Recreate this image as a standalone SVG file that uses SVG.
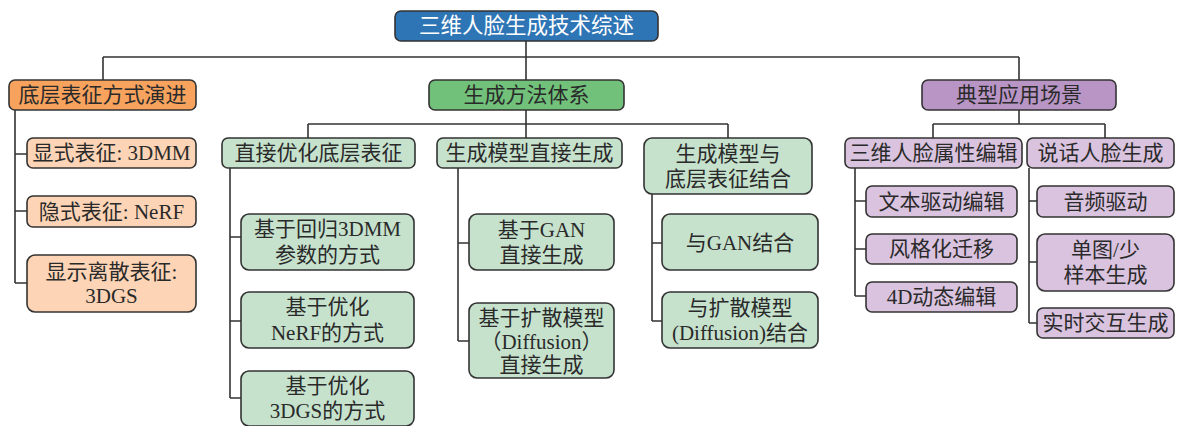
<svg xmlns="http://www.w3.org/2000/svg" width="1180" height="426" viewBox="0 0 1180 426">
<style>
rect{stroke:#333;stroke-width:1.6}
.root{fill:#2E75B6}
.or{fill:#F7A35E}
.gr{fill:#71C17B}
.pu{fill:#B995C6}
.lor{fill:#FDD5B6}
.lgr{fill:#C6E2CD}
.lpu{fill:#D9C3DF}
text{font-family:"Liberation Serif","Noto Sans CJK SC",serif;font-size:21px;fill:#2a2a2a;text-anchor:middle;dominant-baseline:central}
.w{fill:#fff;font-size:21.5px}
.con{fill:none;stroke:#333;stroke-width:1.6}
</style>
<rect width="1180" height="426" fill="#fff" style="stroke:none"/>
<g id="connectors" class="con">
<path d="M526 41V57M103 57H1019M103 57V80M526 57V80M1019 57V80"/>
<path d="M15 110V283M15 154H27M15 211H27M15 283H27"/>
<path d="M526 110V138M308 124H728M308 124V138M728 124V138"/>
<path d="M230 168V398M230 237H241M230 321H241M230 398H241"/>
<path d="M458 168V341M458 243H469M458 341H469"/>
<path d="M652 194V321M652 243H662M652 321H662"/>
<path d="M1019 110V124M933 124H1105M933 124V138M1105 124V138"/>
<path d="M855 168V296M855 201H866M855 249H866M855 296H866"/>
<path d="M1029 168V323M1029 201H1037M1029 262H1037M1029 323H1037"/>
</g>
<g id="root"><rect class="root" x="395" y="11" width="263" height="30" rx="6"/><text class="w" x="526.5" y="26">三维人脸生成技术综述</text></g>
<g id="n-dice"><rect class="or" x="9" y="80" width="187" height="30" rx="6"/><text x="102.5" y="95">底层表征方式演进</text></g>
<g id="n-fangfa"><rect class="gr" x="429" y="80" width="195" height="30" rx="6"/><text x="526.5" y="95">生成方法体系</text></g>
<g id="n-yingyong"><rect class="pu" x="922" y="80" width="194" height="30" rx="6"/><text x="1019" y="95">典型应用场景</text></g>
<g id="n-3dmm"><rect class="lor" x="27" y="138" width="169" height="30" rx="6"/><text x="111.5" y="153">显式表征: 3DMM</text></g>
<g id="n-nerf"><rect class="lor" x="27" y="196" width="169" height="31" rx="6"/><text x="111.5" y="211.5">隐式表征: NeRF</text></g>
<g id="n-3dgs"><rect class="lor" x="27" y="255" width="169" height="57" rx="8"/><text x="111.5" y="272">显示离散表征:</text><text x="111.5" y="296">3DGS</text></g>
<g id="n-zhijie"><rect class="lgr" x="222" y="138" width="193" height="30" rx="6"/><text x="318.5" y="153">直接优化底层表征</text></g>
<g id="n-moxing"><rect class="lgr" x="437" y="138" width="185" height="30" rx="6"/><text x="529.5" y="153">生成模型直接生成</text></g>
<g id="n-jiehe"><rect class="lgr" x="644" y="138" width="168" height="56" rx="8"/><text x="728" y="154">生成模型与</text><text x="728" y="179">底层表征结合</text></g>
<g id="n-reg3dmm"><rect class="lgr" x="241" y="214" width="173" height="56" rx="8"/><text x="327.5" y="229">基于回归3DMM</text><text x="327.5" y="255">参数的方式</text></g>
<g id="n-optnerf"><rect class="lgr" x="241" y="292" width="173" height="56" rx="8"/><text x="327.5" y="307">基于优化</text><text x="327.5" y="333">NeRF的方式</text></g>
<g id="n-opt3dgs"><rect class="lgr" x="241" y="371" width="173" height="55" rx="8"/><text x="327.5" y="386">基于优化</text><text x="327.5" y="411">3DGS的方式</text></g>
<g id="n-gan"><rect class="lgr" x="469" y="214" width="145" height="56" rx="8"/><text x="541.5" y="230">基于GAN</text><text x="541.5" y="255">直接生成</text></g>
<g id="n-diff"><rect class="lgr" x="469" y="303" width="145" height="75" rx="8"/><text x="541.5" y="318">基于扩散模型</text><text x="541.5" y="342">（Diffusion）</text><text x="541.5" y="365">直接生成</text></g>
<g id="n-gan2"><rect class="lgr" x="662" y="214" width="156" height="56" rx="8"/><text x="740" y="243">与GAN结合</text></g>
<g id="n-diff2"><rect class="lgr" x="662" y="292" width="156" height="56" rx="8"/><text x="740" y="308">与扩散模型</text><text x="740" y="333">(Diffusion)结合</text></g>
<g id="n-shuxing"><rect class="lpu" x="845" y="138" width="177" height="30" rx="6"/><text x="933.5" y="153">三维人脸属性编辑</text></g>
<g id="n-shuohua"><rect class="lpu" x="1027" y="138" width="147" height="30" rx="6"/><text x="1100.5" y="153">说话人脸生成</text></g>
<g id="n-wenben"><rect class="lpu" x="866" y="186" width="151" height="31" rx="6"/><text x="941.5" y="201.5">文本驱动编辑</text></g>
<g id="n-fengge"><rect class="lpu" x="866" y="234" width="151" height="30" rx="6"/><text x="941.5" y="249">风格化迁移</text></g>
<g id="n-4d"><rect class="lpu" x="866" y="282" width="151" height="30" rx="6"/><text x="941.5" y="297">4D动态编辑</text></g>
<g id="n-yinpin"><rect class="lpu" x="1037" y="186" width="137" height="31" rx="6"/><text x="1105.5" y="201.5">音频驱动</text></g>
<g id="n-dantu"><rect class="lpu" x="1037" y="234" width="137" height="57" rx="8"/><text x="1105.5" y="250">单图/少</text><text x="1105.5" y="275">样本生成</text></g>
<g id="n-shishi"><rect class="lpu" x="1037" y="308" width="137" height="30" rx="6"/><text x="1105.5" y="323">实时交互生成</text></g>
</svg>
